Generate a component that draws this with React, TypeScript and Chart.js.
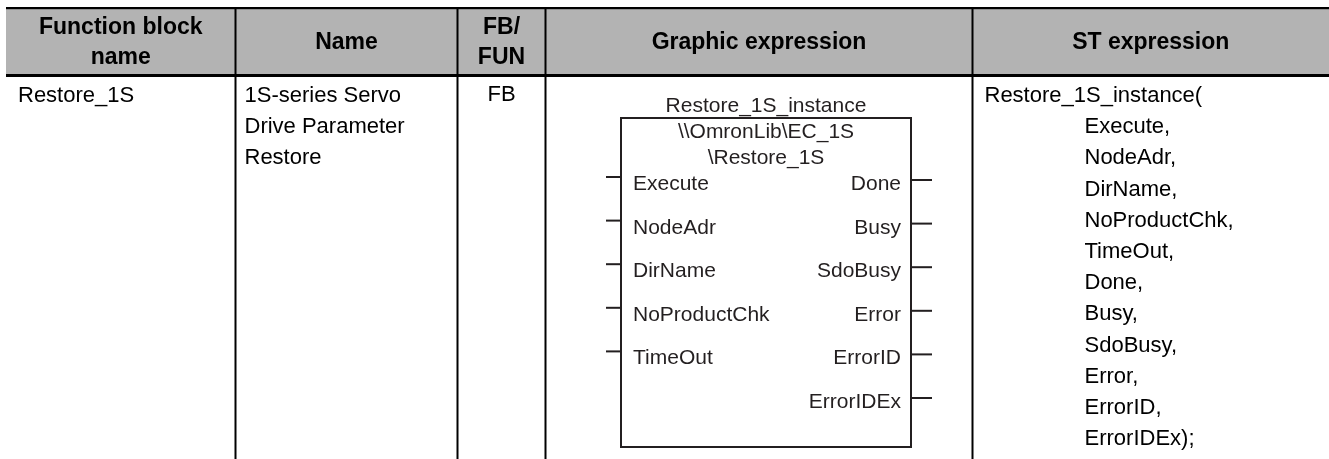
import React, { useEffect, useRef } from "react";
import { Chart, registerables } from "chart.js";

Chart.register(...registerables);

// ---------- content ----------
const headerLabels: string[][] = [
  ["Function block", "name"],
  ["Name"],
  ["FB/", "FUN"],
  ["Graphic expression"],
  ["ST expression"],
];
const fbNameLines: string[] = ["Restore_1S"];
const descriptionLines: string[] = ["1S-series Servo", "Drive Parameter", "Restore"];
const fbTypeLines: string[] = ["FB"];
const instanceName = "Restore_1S_instance";
const blockPathLines: string[] = ["\\\\OmronLib\\EC_1S", "\\Restore_1S"];
const inputVars: string[] = ["Execute", "NodeAdr", "DirName", "NoProductChk", "TimeOut"];
const outputVars: string[] = ["Done", "Busy", "SdoBusy", "Error", "ErrorID", "ErrorIDEx"];
const stOpen = "Restore_1S_instance(";
const stArgs: string[] = [...inputVars, ...outputVars];

// ---------- layout (page pixels, mapped through the chart scales) ----------
const W = 1329;
const H = 459;
const colEdges = [6, 235.5, 457.5, 545.5, 972.5, 1329];
const tableTop = 7;
const headerBottom = 74;
const headerLineH = 3;
const bodyFirstBaseline = 102;
const bodyLineGap = 31.2;
const box = { left: 621, right: 911, top: 118, bottom: 447 };
const pinFirstBaseline = 190;
const pinGap = 43.6;

const FONT = '"Liberation Sans", Arial, sans-serif';

const tablePlugin = {
  id: "fbTable",
  afterDraw(chart: any) {
    const ctx: CanvasRenderingContext2D = chart.ctx;
    const xs = chart.scales.x;
    const ys = chart.scales.y;
    const X = (v: number) => xs.getPixelForValue(v);
    const Y = (v: number) => ys.getPixelForValue(v);
    ctx.save();

    // header background
    ctx.fillStyle = "#b3b3b3";
    ctx.fillRect(X(colEdges[0]), Y(tableTop), X(W) - X(colEdges[0]), Y(headerBottom) - Y(tableTop));

    // borders
    ctx.fillStyle = "#000";
    ctx.fillRect(X(colEdges[0]), Y(tableTop), X(W) - X(colEdges[0]), 2.2);
    ctx.fillRect(X(colEdges[0]), Y(headerBottom), X(W) - X(colEdges[0]), headerLineH);
    for (let i = 1; i < colEdges.length - 1; i++) {
      ctx.fillRect(X(colEdges[i]) - 1, Y(tableTop), 2, Y(H) - Y(tableTop));
    }

    // header text
    ctx.fillStyle = "#000";
    ctx.font = `bold 23px ${FONT}`;
    ctx.textAlign = "center";
    ctx.textBaseline = "alphabetic";
    headerLabels.forEach((lines, i) => {
      const cx = (colEdges[i] + colEdges[i + 1]) / 2;
      const lh = 30;
      const first = 48.5 - ((lines.length - 1) * lh) / 2;
      lines.forEach((t, k) => ctx.fillText(t, X(cx), Y(first + k * lh)));
    });

    // body text
    ctx.font = `22px ${FONT}`;
    ctx.textAlign = "left";
    fbNameLines.forEach((t, k) => ctx.fillText(t, X(colEdges[0] + 12), Y(bodyFirstBaseline + k * bodyLineGap)));
    descriptionLines.forEach((t, k) => ctx.fillText(t, X(colEdges[1] + 9), Y(bodyFirstBaseline + k * bodyLineGap)));
    ctx.textAlign = "center";
    fbTypeLines.forEach((t, k) =>
      ctx.fillText(t, X((colEdges[2] + colEdges[3]) / 2), Y(bodyFirstBaseline - 1 + k * bodyLineGap))
    );
    ctx.textAlign = "left";
    ctx.fillText(stOpen, X(colEdges[4] + 12), Y(bodyFirstBaseline));
    stArgs.forEach((a, k) => {
      const last = k === stArgs.length - 1;
      ctx.fillText(a + (last ? ");" : ","), X(colEdges[4] + 112), Y(bodyFirstBaseline + (k + 1) * bodyLineGap));
    });

    // graphic expression: function block box
    const ink = "#231f20";
    const bx = (box.left + box.right) / 2;
    ctx.fillStyle = ink;
    ctx.strokeStyle = ink;
    ctx.lineWidth = 2;
    ctx.font = `21px ${FONT}`;
    ctx.textAlign = "center";
    ctx.fillText(instanceName, X(bx), Y(112));
    blockPathLines.forEach((t, k) => ctx.fillText(t, X(bx), Y(138 + k * 26)));
    ctx.strokeRect(X(box.left), Y(box.top), X(box.right) - X(box.left), Y(box.bottom) - Y(box.top));

    ctx.textAlign = "left";
    inputVars.forEach((t, k) => {
      const by = pinFirstBaseline + k * pinGap;
      ctx.fillText(t, X(box.left + 12), Y(by));
      ctx.beginPath();
      ctx.moveTo(X(box.left - 15), Y(by - 13));
      ctx.lineTo(X(box.left), Y(by - 13));
      ctx.stroke();
    });
    ctx.textAlign = "right";
    outputVars.forEach((t, k) => {
      const by = pinFirstBaseline + k * pinGap;
      ctx.fillText(t, X(box.right - 10), Y(by));
      ctx.beginPath();
      ctx.moveTo(X(box.right), Y(by - 10));
      ctx.lineTo(X(box.right + 21), Y(by - 10));
      ctx.stroke();
    });

    ctx.restore();
  },
};

export default function App() {
  const ref = useRef<HTMLCanvasElement | null>(null);
  useEffect(() => {
    document.body.style.margin = "0";
    const canvas = ref.current;
    if (!canvas) return;
    const chart = new Chart(canvas, {
      type: "scatter",
      data: { datasets: [] },
      options: {
        responsive: false,
        animation: false,
        events: [],
        devicePixelRatio: 1,
        layout: { padding: 0 },
        plugins: { legend: { display: false }, tooltip: { enabled: false }, title: { display: false } },
        scales: {
          x: { type: "linear", min: 0, max: W, display: false },
          y: { type: "linear", min: 0, max: H, reverse: true, display: false },
        },
      },
      plugins: [tablePlugin],
    } as any);
    return () => chart.destroy();
  }, []);
  return (
    <div style={{ width: W, height: H, background: "#fff" }}>
      <canvas ref={ref} width={W} height={H} style={{ display: "block", width: W, height: H }} />
    </div>
  );
}
